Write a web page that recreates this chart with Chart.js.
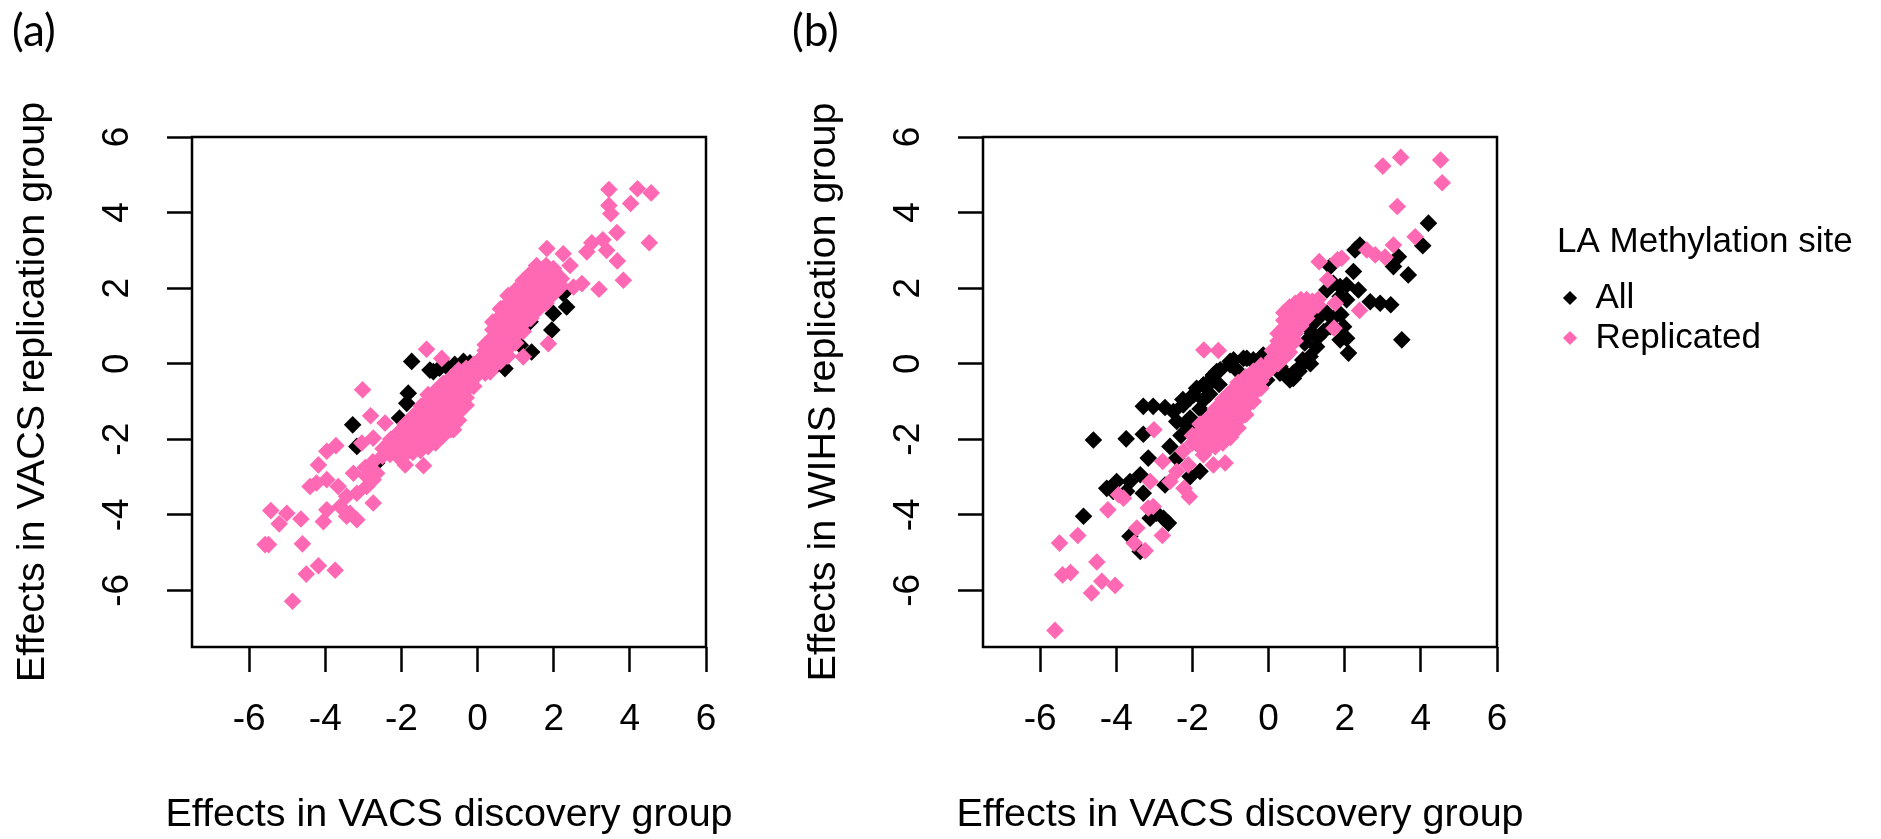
<!DOCTYPE html>
<html>
<head>
<meta charset="utf-8">
<script src="https://cdn.jsdelivr.net/npm/chart.js@4.4.0/dist/chart.umd.min.js"></script>
<style>
  html, body { margin: 0; padding: 0; background: #fff; }
  #wrapA { position: absolute; left: 0; top: 0; width: 791px; height: 839px; }
  #wrapB { position: absolute; left: 791px; top: 0; width: 1090px; height: 839px; }
</style>
</head>
<body>
<div id="wrapA"><canvas id="chartA"></canvas></div>
<div id="wrapB"><canvas id="chartB"></canvas></div>
<script>
// axis ticks, shared by both panels
const tickValues = [-6, -4, -2, 0, 2, 4, 6];
const axisMin = -7.5;
const axisMax = 6;

// panel (a): VACS discovery vs VACS replication
const vacsAll = [
  [-1.73, 0.06], [-1.82, -0.78], [-1.86, -1.05], [-3.28, -1.62], [-2.05, -1.44], [-2.65, -2.63],
  [-3.17, -2.19], [-1.16, -0.21], [-0.81, -0.08], [-0.37, 0.06], [-1.25, -0.17], [-1.0, -0.12],
  [-0.6, -0.02], [-0.2, 0.02], [0.05, -0.05], [0.50, -0.04], [0.72, -0.13], [1.12, 0.49],
  [1.42, 0.31], [1.38, 1.11], [1.95, 0.89], [1.99, 1.33], [2.34, 1.50], [2.25, 1.86]
];
const vacsReplicated = [
  [-4.86, -6.29], [-4.50, -5.57], [-4.18, -5.35], [-3.74, -5.47], [-5.58, -4.79], [-5.49, -4.79],
  [-4.60, -4.77], [-5.43, -3.89], [-5.01, -3.96], [-5.21, -4.24], [-4.64, -4.11], [-4.05, -4.18],
  [-4.40, -3.25], [-4.23, -3.16], [-3.96, -3.07], [-4.18, -2.68], [-3.96, -2.32], [-3.72, -2.17],
  [-3.02, -0.69], [-2.81, -1.38], [-2.43, -1.57], [-3.04, -2.10], [-2.74, -1.97], [-3.26, -2.90],
  [-3.66, -3.25], [-3.44, -3.51], [-3.17, -3.43], [-2.91, -3.25], [-3.96, -3.87], [-3.61, -3.78],
  [-3.35, -3.96], [-3.17, -4.13], [-3.44, -4.04], [-2.74, -3.69], [-2.74, -3.07], [-2.91, -2.99],
  [-2.65, -2.90], [-2.95, -2.75], [-2.75, -2.60], [-1.90, -2.68], [-1.42, -2.70], [-1.34, 0.38],
  [-0.94, 0.14], [-0.63, -1.75],
  // dense lower cloud
  [-2.5, -2.45], [-2.48, -2.25], [-2.3, -2.4], [-2.32, -2.2], [-2.28, -2.0],
  [-2.1, -2.45], [-2.12, -2.25], [-2.08, -2.05], [-2.1, -1.85],
  [-1.9, -2.4], [-1.92, -2.2], [-1.88, -2.0], [-1.9, -1.8], [-1.9, -1.6],
  [-1.7, -2.35], [-1.72, -2.15], [-1.68, -1.95], [-1.7, -1.75], [-1.7, -1.55], [-1.68, -1.38],
  [-1.5, -2.3], [-1.52, -2.1], [-1.5, -1.9], [-1.48, -1.7], [-1.5, -1.5], [-1.5, -1.3], [-1.48, -1.12],
  [-1.3, -2.2], [-1.3, -2.0], [-1.32, -1.8], [-1.3, -1.6], [-1.28, -1.4], [-1.3, -1.2], [-1.3, -1.0], [-1.3, -0.82],
  [-1.1, -2.1], [-1.12, -1.9], [-1.1, -1.7], [-1.1, -1.5], [-1.08, -1.3], [-1.1, -1.1], [-1.1, -0.9], [-1.1, -0.72],
  [-0.9, -1.9], [-0.9, -1.7], [-0.92, -1.5], [-0.9, -1.3], [-0.9, -1.1], [-0.88, -0.9], [-0.9, -0.7], [-0.9, -0.52],
  [-0.7, -1.75], [-0.7, -1.55], [-0.7, -1.35], [-0.72, -1.15], [-0.7, -0.95], [-0.7, -0.75], [-0.68, -0.55], [-0.7, -0.37],
  [-0.5, -1.5], [-0.5, -1.3], [-0.5, -1.1], [-0.5, -0.9], [-0.52, -0.7], [-0.5, -0.5], [-0.5, -0.3], [-0.5, -0.17],
  [-0.3, -1.1], [-0.3, -0.9], [-0.3, -0.7], [-0.3, -0.5], [-0.3, -0.3], [-0.3, -0.12],
  [-0.1, -0.6], [-0.1, -0.4], [-0.1, -0.2], [-0.1, -0.02],
  // dense upper cloud
  [0.0, -0.1], [0.05, 0.1],
  [0.2, -0.25], [0.2, -0.05], [0.2, 0.15], [0.2, 0.35], [0.2, 0.5],
  [0.4, -0.1], [0.4, 0.1], [0.4, 0.3], [0.4, 0.5], [0.4, 0.7], [0.4, 0.9], [0.4, 1.1],
  [0.6, 0.05], [0.6, 0.25], [0.6, 0.45], [0.6, 0.65], [0.6, 0.85], [0.6, 1.05], [0.6, 1.25], [0.6, 1.45],
  [0.8, 0.2], [0.8, 0.4], [0.8, 0.6], [0.8, 0.8], [0.8, 1.0], [0.8, 1.2], [0.8, 1.4], [0.8, 1.6], [0.8, 1.8],
  [1.0, 0.55], [1.0, 0.75], [1.0, 0.95], [1.0, 1.15], [1.0, 1.35], [1.0, 1.55], [1.0, 1.75], [1.0, 1.95],
  [1.2, 0.85], [1.2, 1.05], [1.2, 1.25], [1.2, 1.45], [1.2, 1.65], [1.2, 1.85], [1.2, 2.05], [1.2, 2.2],
  [1.4, 1.2], [1.4, 1.4], [1.4, 1.6], [1.4, 1.8], [1.4, 2.0], [1.4, 2.2], [1.4, 2.4],
  [1.6, 1.45], [1.6, 1.65], [1.6, 1.85], [1.6, 2.05], [1.6, 2.25], [1.6, 2.45],
  [1.8, 1.6], [1.8, 1.8], [1.8, 2.0], [1.8, 2.2], [1.8, 2.4], [1.8, 2.6],
  [2.0, 1.85], [2.0, 2.05], [2.0, 2.25], [2.0, 2.45],
  [2.2, 2.05], [2.2, 2.25],
  // upper outliers
  [3.45, 4.61], [4.20, 4.63], [4.56, 4.52], [4.02, 4.24], [3.45, 4.19], [3.50, 3.97], [3.66, 3.47],
  [4.51, 3.20], [3.00, 3.20], [3.29, 3.28], [2.87, 2.96], [3.39, 3.00], [3.67, 2.72], [3.83, 2.21],
  [3.19, 1.97], [1.82, 3.05], [2.25, 2.91], [2.43, 2.60], [1.55, 2.60], [1.99, 2.52], [2.74, 2.12],
  [2.52, 2.03], [1.86, 0.53], [1.20, 0.18], [0.33, -0.22]
];

// panel (b): VACS discovery vs WIHS replication
const wihsAll = [
  [-4.86, -4.04], [-4.60, -2.02], [-3.74, -1.99], [-3.29, -1.13], [-3.03, -1.13], [-2.72, -1.16],
  [-3.29, -1.87], [-3.16, -2.50], [-2.59, -2.19], [-3.37, -2.94], [-3.99, -3.12], [-4.25, -3.30],
  [-3.73, -3.38], [-3.29, -3.43], [-2.76, -4.09], [-2.63, -4.22], [-3.64, -4.57], [-3.37, -4.97],
  [-2.94, -3.96], [-3.11, -4.09], [-2.72, -3.21], [-2.06, -0.91], [-1.89, -0.65], [-1.54, -0.47],
  [-1.36, -0.21], [-1.01, 0.06], [-0.66, 0.14], [-0.14, 0.23], [0.39, -0.21], [0.65, -0.39],
  [-2.41, -1.53], [-2.15, -1.62], [-1.80, -2.85], [-2.06, -2.99], [-2.41, -2.50], [-2.50, -1.27],
  [-2.24, -1.09], [-1.97, -0.83], [-1.71, -0.56], [-1.45, -0.30], [-1.01, -0.03], [-0.57, 0.14],
  [0.21, -0.03], [-1.71, -0.96], [-2.06, -1.44], [-3.64, -3.12], [-4.08, -3.38], [-2.3, -1.9],
  [-2.0, -1.7], [-1.9, -2.1], [-2.25, -0.95], [-1.8, -1.2], [-1.55, -0.8], [-1.3, -0.55],
  [-0.85, -0.15], [-0.4, 0.05],
  [4.20, 3.72], [4.05, 3.12], [3.67, 2.35], [3.50, 0.63], [3.41, 2.83], [3.28, 2.57], [2.40, 3.14],
  [2.27, 3.01], [2.23, 2.44], [2.36, 1.95], [2.67, 1.64], [2.93, 1.60], [3.21, 1.56], [2.05, 2.08],
  [1.88, 2.04], [1.97, 0.98], [2.05, 0.67], [2.10, 0.28], [1.62, 2.57], [1.53, 1.34], [1.35, 1.42],
  [1.09, 0.19], [0.83, -0.08], [1.26, 0.45], [0.65, -0.25], [0.30, -0.08], [-0.05, -0.43],
  [-0.92, 0.10], [-0.40, 0.10], [-1.27, -0.16], [-1.45, -0.34], [-1.62, -0.60], [1.53, 1.95],
  [1.70, 2.13], [1.88, 1.78], [2.05, 1.69], [1.26, 1.16], [1.62, 0.98], [1.88, 0.63], [0.56, -0.43],
  [0.30, -0.25], [0.9, 0.1], [1.1, 0.0], [0.8, -0.2], [1.3, 0.7], [1.45, 0.85], [1.15, 0.8],
  [1.7, 1.2], [1.9, 1.3], [0.95, 0.55], [1.05, 0.95]
];
const wihsReplicated = [
  [-5.61, -7.06], [-5.49, -4.75], [-5.01, -4.55], [-5.41, -5.59], [-5.20, -5.53], [-4.51, -5.25],
  [-4.38, -5.76], [-4.03, -5.87], [-4.65, -6.07], [-4.22, -3.87], [-3.81, -3.56], [-3.94, -3.47],
  [-3.46, -4.35], [-3.53, -4.75], [-3.24, -4.95], [-2.79, -4.55], [-3.16, -3.82], [-3.03, -3.78],
  [-3.11, -3.12], [-3.01, -1.75], [-2.78, -2.59], [-2.59, -3.12], [-2.41, -2.85], [-2.24, -2.32],
  [-2.11, -2.68], [-2.08, -3.52], [-2.22, -3.30], [-1.71, -2.41], [-1.45, -2.68], [-1.14, -2.63],
  [-1.70, 0.36], [-1.32, 0.35],
  // dense lower cloud
  [-2.0, -2.1], [-2.0, -1.9],
  [-1.8, -2.2], [-1.8, -2.0], [-1.8, -1.8], [-1.8, -1.6],
  [-1.6, -2.25], [-1.6, -2.05], [-1.6, -1.85], [-1.6, -1.65], [-1.6, -1.45],
  [-1.4, -2.2], [-1.4, -2.0], [-1.4, -1.8], [-1.4, -1.6], [-1.4, -1.4], [-1.4, -1.2],
  [-1.2, -2.1], [-1.2, -1.9], [-1.2, -1.7], [-1.2, -1.5], [-1.2, -1.3], [-1.2, -1.1], [-1.2, -0.95],
  [-1.0, -1.95], [-1.0, -1.75], [-1.0, -1.55], [-1.0, -1.35], [-1.0, -1.15], [-1.0, -0.95], [-1.0, -0.75],
  [-0.8, -1.7], [-0.8, -1.5], [-0.8, -1.3], [-0.8, -1.1], [-0.8, -0.9], [-0.8, -0.7], [-0.8, -0.5],
  [-0.6, -1.35], [-0.6, -1.15], [-0.6, -0.95], [-0.6, -0.75], [-0.6, -0.55], [-0.6, -0.35],
  [-0.4, -1.0], [-0.4, -0.8], [-0.4, -0.6], [-0.4, -0.4], [-0.4, -0.2],
  [-0.2, -0.65], [-0.2, -0.45], [-0.2, -0.25], [-0.2, -0.05],
  [0.0, -0.2], [0.0, 0.0],
  // dense upper cloud
  [0.1, -0.05], [0.1, 0.15], [0.1, 0.35],
  [0.25, 0.0], [0.25, 0.2], [0.25, 0.4], [0.25, 0.6], [0.25, 0.8],
  [0.4, 0.15], [0.4, 0.35], [0.4, 0.55], [0.4, 0.75], [0.4, 0.95], [0.4, 1.15], [0.4, 1.35],
  [0.55, 0.3], [0.55, 0.5], [0.55, 0.7], [0.55, 0.9], [0.55, 1.1], [0.55, 1.3], [0.55, 1.5],
  [0.7, 0.6], [0.7, 0.8], [0.7, 1.0], [0.7, 1.2], [0.7, 1.4], [0.7, 1.6],
  [0.85, 1.0], [0.85, 1.2], [0.85, 1.4], [0.85, 1.6], [0.85, 1.7],
  [1.0, 1.2], [1.0, 1.4], [1.0, 1.6], [1.0, 1.7],
  [1.15, 1.45], [1.15, 1.65], [1.3, 1.55], [1.3, 1.7],
  // upper outliers
  [3.00, 5.23], [3.47, 5.46], [4.52, 5.39], [4.56, 4.79], [3.38, 4.16], [3.85, 3.36], [3.28, 3.14],
  [2.58, 3.01], [2.80, 2.88], [3.06, 2.82], [1.33, 2.70], [1.81, 2.75], [1.92, 2.79], [1.55, 2.22],
  [1.75, 1.60], [2.39, 1.41], [1.72, 0.94]
];

const seriesNames = ['All', 'Replicated'];
const seriesColors = ['#000000', '#FF69B4'];
const xTitleText = 'Effects in VACS discovery group';

const FONT = "'Liberation Sans', Arial, sans-serif";

const toPoints = (pairs) => pairs.map(([x, y]) => ({ x: x, y: y }));

// box around the plotting region, R style
const plotBox = {
  id: 'plotBox',
  afterDatasetsDraw(chart) {
    const { ctx, chartArea } = chart;
    ctx.save();
    ctx.strokeStyle = '#000';
    ctx.lineWidth = 2.5;
    ctx.strokeRect(chartArea.left, chartArea.top, chartArea.right - chartArea.left, chartArea.bottom - chartArea.top);
    ctx.restore();
  }
};

// x title is wider than the plot box, chart.js would squeeze it, so draw it here
const xTitle = {
  id: 'xTitle',
  afterDraw(chart, args, opts) {
    const { ctx, chartArea } = chart;
    ctx.save();
    ctx.font = opts.size + 'px ' + FONT;
    ctx.fillStyle = '#000';
    ctx.textAlign = 'center';
    ctx.textBaseline = 'middle';
    ctx.fillText(opts.text, (chartArea.left + chartArea.right) / 2, chartArea.bottom + opts.offset);
    ctx.restore();
  }
};

// the legend clips to its own box, give the long title room
const legendRoom = {
  id: 'legendRoom',
  beforeDraw(chart) {
    const lg = chart.legend;
    if (lg) {
      lg.right = chart.width;
      lg.width = lg.right - lg.left;
    }
  }
};

const axisOptions = (pos, titleText, size, titlePad) => {
  const vertical = pos === 'left';
  return {
    type: 'linear',
    position: pos,
    min: axisMin,
    max: axisMax,
    afterBuildTicks: (scale) => { scale.ticks = tickValues.map((v) => ({ value: v })); },
    afterFit: (scale) => { if (vertical) scale.width = size; else scale.height = size; },
    grid: { drawOnChartArea: false, drawTicks: true, tickLength: 25, tickWidth: 2.5, tickColor: '#000' },
    border: { display: false },
    ticks: {
      color: '#000',
      font: { family: FONT, size: 37 },
      padding: vertical ? 32.5 : 26,
      autoSkip: false,
      minRotation: vertical ? 90 : 0,
      maxRotation: vertical ? 90 : 0,
      crossAlign: vertical ? 'center' : 'near',
      callback: (v) => String(v)
    },
    title: {
      display: titleText !== '',
      text: titleText,
      color: '#000',
      font: { family: FONT, size: 39.5, lineHeight: 1.2 },
      padding: titlePad
    }
  };
};

const makeDatasets = (allPairs, replicatedPairs) => [
  {
    label: seriesNames[0],
    data: toPoints(allPairs),
    backgroundColor: seriesColors[0],
    order: 1,
    xAxisID: 'x', yAxisID: 'y'
  },
  {
    label: seriesNames[1],
    data: toPoints(replicatedPairs),
    backgroundColor: seriesColors[1],
    order: 0,
    xAxisID: 'x', yAxisID: 'y'
  }
];

const pointStyleOpts = { pointStyle: 'rectRot', radius: 8.8, hoverRadius: 8.8, borderWidth: 0, hoverBorderWidth: 0 };

// panel (a)
new Chart(document.getElementById('chartA'), {
  type: 'scatter',
  data: { datasets: makeDatasets(vacsAll, vacsReplicated) },
  options: {
    responsive: true,
    maintainAspectRatio: false,
    animation: false,
    events: [],
    layout: { padding: { left: 12, right: 85, top: 5, bottom: 0 } },
    elements: { point: pointStyleOpts },
    scales: {
      x: axisOptions('bottom', '', 192, 0),
      y: axisOptions('left', 'Effects in VACS replication group', 180, { top: -3, bottom: 0 })
    },
    plugins: {
      legend: { display: false },
      tooltip: { enabled: false },
      xTitle: { text: xTitleText, size: 39.5, offset: 168 },
      title: {
        display: true,
        text: '(a)',
        align: 'start',
        color: '#000',
        font: { family: 'Lato', size: 44, weight: 'normal', lineHeight: 1.2 },
        padding: { top: 0, bottom: 79.2 }
      }
    }
  },
  plugins: [plotBox, xTitle]
});

// panel (b)
new Chart(document.getElementById('chartB'), {
  type: 'scatter',
  data: { datasets: makeDatasets(wihsAll, wihsReplicated) },
  options: {
    responsive: true,
    maintainAspectRatio: false,
    animation: false,
    events: [],
    layout: { padding: { left: 1, right: 124, top: 5, bottom: 0 } },
    elements: { point: pointStyleOpts },
    scales: {
      x: axisOptions('bottom', '', 192, 0),
      y: axisOptions('left', 'Effects in WIHS replication group', 191, { top: 8, bottom: 0 }),
      gap: {
        type: 'linear',
        position: 'right',
        display: true,
        grid: { display: false },
        border: { display: false },
        ticks: { display: false },
        afterFit: (scale) => { scale.width = 60; }
      }
    },
    plugins: {
      tooltip: { enabled: false },
      xTitle: { text: xTitleText, size: 39.5, offset: 168 },
      title: {
        display: true,
        text: '(b)',
        align: 'start',
        color: '#000',
        font: { family: 'Lato', size: 44, weight: 'normal', lineHeight: 1.2 },
        padding: { top: 0, bottom: 79.2 }
      },
      legend: {
        display: true,
        position: 'right',
        align: 'start',
        maxWidth: 200,
        title: {
          display: true,
          text: 'LA Methylation site',
          position: 'start',
          color: '#000',
          font: { family: FONT, size: 35 },
          padding: { top: 219.5, bottom: 9 }
        },
        labels: {
          usePointStyle: true,
          boxWidth: 16,
          boxHeight: 10,
          padding: 5,
          color: '#000',
          font: { family: FONT, size: 35 },
          sort: (a, b) => a.datasetIndex - b.datasetIndex
        }
      }
    }
  },
  plugins: [plotBox, xTitle, legendRoom]
});
</script>
</body>
</html>
